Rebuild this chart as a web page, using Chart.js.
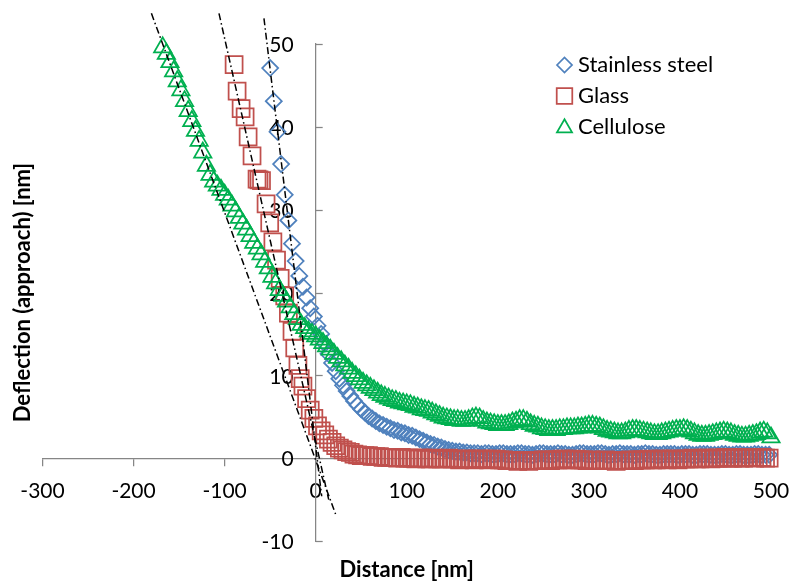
<!DOCTYPE html>
<html><head><meta charset="utf-8">
<script src="https://cdn.jsdelivr.net/npm/chart.js@4.4.1/dist/chart.umd.min.js"></script>
<style>html,body{margin:0;padding:0;background:#fff}</style>
</head><body>
<canvas id="c" width="792" height="588"></canvas>
<script>
const xTicks = [-300,-200,-100,0,100,200,300,400,500];
const yTicks = [-10,0,10,20,30,40,50];
const seriesNames = ['Stainless steel','Glass','Cellulose'];
const seriesColors = ['#4F81BD','#C0504D','#00B050'];

const steel = [
[-50,47.1],[-46,43.1],[-42,39.4],[-38,35.5],[-34,31.8],[-30,28.7],[-26,25.9],[-22,23.8],[-18,22.0],[-14,20.7],
[-10,19.4],[-6,18.1],[-2,17.1],[2,16.0],[6,15.0],[10,13.8],[14,12.6],[18,11.5],[22,10.5],[26,9.6],
[30,8.8],[34,8.1],[38,7.5],[42,6.9],[46,6.4],[50,5.9],[54,5.5],[58,5.1],[62,4.8],[66,4.5],
[70,4.2],[74,4.0],[78,3.8],[82,3.6],[86,3.4],[90,3.3],[94,3.1],[98,3.0],[102,2.8],[106,2.7],
[110,2.5],[114,2.3],[118,2.1],[122,1.9],[126,1.7],[130,1.6],[134,1.4],[138,1.3],[142,1.1],[146,1.0],
[150,0.9],[154,0.8],[158,0.8],[162,0.7],[166,0.7],[170,0.6],[174,0.6],[178,0.6],[182,0.5],[186,0.6],
[190,0.6],[194,0.5],[198,0.5],[202,0.6],[206,0.6],[210,0.5],[214,0.5],[218,0.5],[222,0.6],[226,0.6],
[230,0.5],[234,0.5],[238,0.4],[242,0.5],[246,0.6],[250,0.6],[254,0.5],[258,0.5],[262,0.5],[266,0.6],
[270,0.5],[274,0.5],[278,0.4],[282,0.4],[286,0.5],[290,0.6],[294,0.6],[298,0.5],[302,0.5],[306,0.5],
[310,0.6],[314,0.6],[318,0.5],[322,0.4],[326,0.5],[330,0.5],[334,0.6],[338,0.5],[342,0.5],[346,0.5],
[350,0.4],[354,0.5],[358,0.5],[362,0.6],[366,0.5],[370,0.5],[374,0.4],[378,0.4],[382,0.5],[386,0.5],
[390,0.5],[394,0.5],[398,0.4],[402,0.5],[406,0.5],[410,0.5],[414,0.4],[418,0.4],[422,0.5],[426,0.5],
[430,0.5],[434,0.4],[438,0.4],[442,0.4],[446,0.5],[450,0.5],[454,0.4],[458,0.4],[462,0.5],[466,0.5],
[470,0.4],[474,0.4],[478,0.4],[482,0.5],[486,0.5],[490,0.4],[494,0.4],[498,0.4]
];

const glass = [
[-89.6,47.5],[-86.3,44.3],[-81.9,42.2],[-77.5,41.2],[-74.2,38.8],[-69.9,36.5],[-64.4,33.7],[-62.2,33.6],[-59.5,33.5],[-54.5,30.7],
[-50.5,28.4],[-47,26.1],[-43,23.9],[-39,21.7],[-34,19.6],[-30,17.5],[-26,15.3],[-23,13.3],[-19.5,11.2],[-17,9.6],
[-14,8.7],[-10,7.2],[-6,5.8],[-2,4.8],[2,3.9],[6,3.3],[10,2.8],[14,2.3],[18,1.9],[22,1.5],
[26,1.2],[30,1.0],[34,0.8],[38,0.7],[42,0.5],[46,0.4],[50,0.3],[54,0.3],[58,0.3],[62,0.2],
[66,0.2],[70,0.2],[74,0.1],[78,0.1],[82,0.1],[86,0.1],[90,0.0],[94,0.1],[98,0.0],[102,0.0],
[106,0.0],[110,-0.1],[114,0.0],[118,0.0],[122,-0.1],[126,-0.1],[130,0.0],[134,-0.1],[138,-0.1],[142,-0.1],
[146,0.0],[150,-0.1],[154,-0.1],[158,-0.2],[162,-0.1],[166,-0.1],[170,-0.1],[174,-0.2],[178,-0.1],[182,-0.1],
[186,-0.1],[190,-0.2],[194,-0.1],[198,-0.1],[202,-0.2],[206,-0.2],[210,-0.3],[214,-0.3],[218,-0.3],[222,-0.4],
[226,-0.3],[230,-0.3],[234,-0.4],[238,-0.3],[242,-0.3],[246,-0.3],[250,-0.2],[254,-0.2],[258,-0.3],[262,-0.2],
[266,-0.2],[270,-0.1],[274,-0.1],[278,-0.2],[282,-0.2],[286,-0.1],[290,-0.2],[294,-0.2],[298,-0.3],[302,-0.2],
[306,-0.3],[310,-0.3],[314,-0.3],[318,-0.2],[322,-0.3],[326,-0.3],[330,-0.4],[334,-0.3],[338,-0.3],[342,-0.3],
[346,-0.2],[350,-0.3],[354,-0.2],[358,-0.2],[362,-0.2],[366,-0.1],[370,-0.2],[374,-0.2],[378,-0.1],[382,-0.1],
[386,-0.2],[390,-0.1],[394,-0.1],[398,-0.2],[402,-0.1],[406,-0.1],[410,-0.1],[414,0.0],[418,-0.1],[422,-0.1],
[426,0.0],[430,0.0],[434,-0.1],[438,0.0],[442,0.0],[446,0.0],[450,0.1],[454,0.0],[458,0.0],[462,0.1],
[466,0.0],[470,0.0],[474,0.1],[478,0.1],[482,0.0],[486,0.1],[490,0.1],[494,0.0],[498,0.0]
];

const cellulose = [
[-168,49.6],[-164,48.8],[-160,47.8],[-156,46.7],[-152,45.5],[-148,44.4],[-144,43.1],[-140,41.9],[-136,40.7],[-132,39.5],
[-128,38.3],[-124,36.9],[-120,35.3],[-116,34.2],[-112,33.4],[-108,32.9],[-104,32.4],[-100,31.8],[-96,31.2],[-92,30.5],
[-88,29.8],[-84,29.0],[-80,28.3],[-76,27.6],[-72,26.8],[-68,26.0],[-64,25.3],[-60,24.6],[-56,23.7],[-52,22.9],
[-48,21.9],[-44,21.1],[-40,20.3],[-36,19.6],[-32,18.9],[-28,18.2],[-24,17.4],[-20,16.8],[-16,16.1],[-12,15.7],
[-8,15.3],[-4,15.0],[0,14.7],[4,14.3],[8,13.9],[12,13.5],[16,13.1],[20,12.6],[24,12.1],[28,11.7],
[32,11.2],[36,10.8],[40,10.3],[44,9.9],[48,9.5],[52,9.1],[56,8.8],[60,8.5],[64,8.2],[68,7.9],
[72,7.6],[76,7.4],[80,7.2],[84,7.0],[88,6.9],[92,6.7],[96,6.6],[100,6.5],[104,6.4],[108,6.2],
[112,6.1],[116,5.9],[120,5.8],[124,5.7],[128,5.5],[132,5.3],[136,5.1],[140,4.9],[144,4.8],[148,4.7],
[152,4.6],[156,4.6],[160,4.5],[164,4.5],[168,4.6],[172,4.8],[176,4.9],[180,4.8],[184,4.5],[188,4.3],
[192,4.2],[196,4.1],[200,4.0],[204,4.0],[208,4.0],[212,4.1],[216,4.3],[220,4.4],[224,4.6],[228,4.6],
[232,4.4],[236,4.1],[240,3.9],[244,3.8],[248,3.6],[252,3.5],[256,3.4],[260,3.4],[264,3.4],[268,3.5],
[272,3.5],[276,3.6],[280,3.6],[284,3.6],[288,3.7],[292,3.7],[296,3.8],[300,3.9],[304,3.9],[308,3.8],
[312,3.7],[316,3.5],[320,3.3],[324,3.2],[328,3.1],[332,3.0],[336,3.0],[340,3.1],[344,3.3],[348,3.4],
[352,3.4],[356,3.3],[360,3.2],[364,3.1],[368,3.0],[372,2.9],[376,2.9],[380,3.0],[384,3.1],[388,3.2],
[392,3.3],[396,3.4],[400,3.4],[404,3.5],[408,3.4],[412,3.2],[416,3.0],[420,2.8],[424,2.7],[428,2.7],
[432,2.8],[436,2.9],[440,3.0],[444,3.1],[448,3.2],[452,3.1],[456,3.0],[460,2.8],[464,2.7],[468,2.6],
[472,2.6],[476,2.7],[480,2.8],[484,2.9],[488,3.1],[492,3.2],[496,3.0],[500,2.5]
];

const fitSteel = [[-56.8,53.1],[6.6,-4.6]];
const fitGlass = [[-106.2,53.7],[14.3,-5.0]];
const fitCellulose = [[-180.4,53.7],[22.0,-6.8]];

const toPts = arr => arr.map(p => ({x: p[0], y: p[1]}));
const AXIS = '#868686';
Chart.defaults.font.family = 'Lato';

function markerDS(label, data, color, style, r, order) {
  return {label, data: toPts(data), pointStyle: style, pointRadius: r, pointHoverRadius: r,
    pointBorderColor: color, pointBackgroundColor: 'rgba(0,0,0,0)', pointBorderWidth: 1.75,
    borderColor: color, backgroundColor: 'rgba(0,0,0,0)', showLine: false, clip: false, order};
}
function fitDS(data) {
  return {label: 'fit', data: toPts(data), showLine: true, pointRadius: 0, pointHoverRadius: 0,
    borderColor: '#000', borderWidth: 1.5, borderDash: [7,3,1.5,3], clip: false, order: 0};
}

function pathMarker(ctx, style, x, y, r) {
  ctx.beginPath();
  if (style === 'rectRot') {
    ctx.moveTo(x - r, y); ctx.lineTo(x, y - r); ctx.lineTo(x + r, y); ctx.lineTo(x, y + r);
  } else if (style === 'rect') {
    const s = Math.SQRT1_2 * r; ctx.rect(x - s, y - s, 2 * s, 2 * s);
  } else {
    ctx.moveTo(x, y - r);
    ctx.lineTo(x + Math.sin(2*Math.PI/3) * r, y - Math.cos(2*Math.PI/3) * r);
    ctx.lineTo(x + Math.sin(4*Math.PI/3) * r, y - Math.cos(4*Math.PI/3) * r);
  }
  ctx.closePath();
}

const yAxisPlugin = {
  id: 'yAxisLabels',
  beforeDatasetsDraw(chart) {
    const ctx = chart.ctx, xs = chart.scales.x, ys = chart.scales.y;
    const x0 = xs.getPixelForValue(0);
    ctx.save();
    ctx.strokeStyle = AXIS; ctx.lineWidth = 1.25;
    ctx.fillStyle = '#000'; ctx.font = '21px Lato'; ctx.textAlign = 'right'; ctx.textBaseline = 'middle';
    ys.ticks.forEach(t => {
      const py = ys.getPixelForValue(t.value);
      ctx.beginPath(); ctx.moveTo(x0, Math.round(py) + 0.5); ctx.lineTo(x0 + 7, Math.round(py) + 0.5); ctx.stroke();
      ctx.fillText(String(t.value), x0 - 22, py + 1.5);
    });
    ctx.restore();
  }
};

const legendPlugin = {
  id: 'insideLegend',
  afterDraw(chart) {
    const ctx = chart.ctx;
    const styles = [['rectRot', 7.5], ['rect', 11], ['triangle', 8.7]];
    const rows = [65, 96, 128];
    const base = [72.3, 103.3, 134.3];
    ctx.save();
    seriesNames.forEach((name, i) => {
      pathMarker(ctx, styles[i][0], 564.5, rows[i], styles[i][1]);
      ctx.strokeStyle = seriesColors[i]; ctx.lineWidth = 1.75; ctx.stroke();
      ctx.fillStyle = '#000'; ctx.font = '22px Lato'; ctx.textAlign = 'left'; ctx.textBaseline = 'alphabetic';
      ctx.fillText(name, 578, base[i]);
    });
    ctx.restore();
  }
};

new Chart(document.getElementById('c'), {
  type: 'scatter',
  data: {
    datasets: [
      markerDS(seriesNames[0], steel, seriesColors[0], 'rectRot', 8, 3),
      markerDS(seriesNames[1], glass, seriesColors[1], 'rect', 12, 2),
      markerDS(seriesNames[2], cellulose, seriesColors[2], 'triangle', 10, 1),
      fitDS(fitSteel), fitDS(fitGlass), fitDS(fitCellulose)
    ]
  },
  options: {
    responsive: false, animation: false, events: [], devicePixelRatio: 1,
    layout: {padding: {top: 44, right: 21, left: 0, bottom: 0}},
    scales: {
      x: {
        type: 'linear', min: -300, max: 500, position: {y: 0},
        afterBuildTicks: s => { s.ticks = xTicks.map(v => ({value: v})); },
        grid: {drawOnChartArea: false, drawTicks: true, tickLength: 7, color: AXIS, lineWidth: 1.25},
        border: {display: true, color: AXIS, width: 1.25},
        ticks: {color: '#000', font: {size: 21, family: 'Lato', lineHeight: 2.53}, padding: 0, maxRotation: 0, autoSkip: false}
      },
      y: {
        type: 'linear', min: -10, max: 50, position: {x: 0},
        afterBuildTicks: s => { s.ticks = yTicks.map(v => ({value: v})); },
        grid: {drawOnChartArea: false, drawTicks: false, color: AXIS},
        border: {display: true, color: AXIS, width: 1.25},
        ticks: {display: false}
      }
    },
    plugins: {
      legend: {display: false},
      tooltip: {enabled: false},
      title: {display: true, text: 'Deflection (approach) [nm]', position: 'left', fullSize: false,
        color: '#000', font: {family: 'Lato', size: 22, weight: 'bold'}, padding: {top: 9.8, bottom: 6.3}},
      subtitle: {display: true, text: 'Distance [nm]', position: 'bottom', fullSize: false,
        color: '#000', font: {family: 'Lato', size: 22, weight: 'bold'}, padding: {top: 15.8, bottom: 4.8}}
    }
  },
  plugins: [yAxisPlugin, legendPlugin]
});
</script>
</body></html>
